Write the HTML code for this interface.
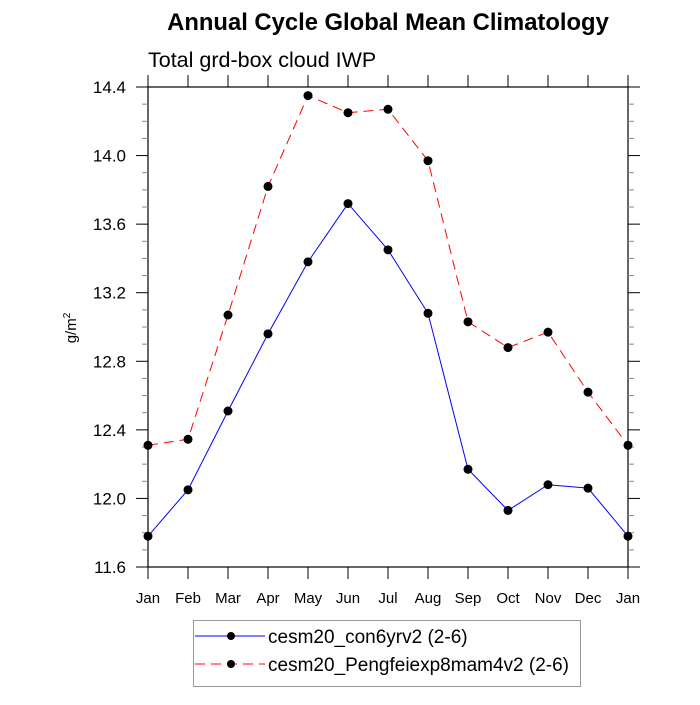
<!DOCTYPE html>
<html><head><meta charset="utf-8"><style>
body{margin:0;background:#fff;}
svg text{font-family:"Liberation Sans",sans-serif;}
</style></head><body>
<svg id="chart" width="700" height="700" xmlns="http://www.w3.org/2000/svg">
<text x="388" y="30" text-anchor="middle" font-size="23.8" font-weight="bold">Annual Cycle Global Mean Climatology</text>
<text x="148" y="67" font-size="21.5">Total grd-box cloud IWP</text>
<text transform="translate(76,328) rotate(-90)" text-anchor="middle" font-size="15">g/m<tspan dy="-6" font-size="10">2</tspan></text>
<g id="axes"></g>
<g id="series"></g>
<g>
<rect x="193.5" y="620.5" width="387" height="66" fill="none" stroke="#999"/>
<g>
<line x1="195" y1="636" x2="265" y2="636" stroke="#00f" stroke-width="1"/>
<circle cx="231" cy="636" r="4" fill="#000"/>
<text x="268" y="643" font-size="19">cesm20_con6yrv2 (2-6)</text></g>
<g>
<line x1="195" y1="664" x2="265" y2="664" stroke="#f00" stroke-width="1" stroke-dasharray="10,6"/>
<circle cx="231" cy="664" r="4" fill="#000"/>
<text x="268" y="671" font-size="19">cesm20_Pengfeiexp8mam4v2 (2-6)</text></g>
</g>
</svg>
<script>
const months=["Jan","Feb","Mar","Apr","May","Jun","Jul","Aug","Sep","Oct","Nov","Dec","Jan"];
const con6yrv2=[11.78,12.05,12.51,12.96,13.38,13.72,13.45,13.08,12.17,11.93,12.08,12.06,11.78];
const pengfei=[12.31,12.345,13.07,13.82,14.35,14.25,14.27,13.97,13.03,12.88,12.97,12.62,12.31];
const yTicks=[11.6,12.0,12.4,12.8,13.2,13.6,14.0,14.4];
const yTickLabels=["11.6","12.0","12.4","12.8","13.2","13.6","14.0","14.4"];
const NS="http://www.w3.org/2000/svg";
const L=148,R=628,T=87,B=567,yMin=11.6,yMax=14.4;
const xs=i=>L+(R-L)*i/(months.length-1);
const ys=v=>B-(B-T)*(v-yMin)/(yMax-yMin);
function mk(t,a,p){const e=document.createElementNS(NS,t);for(const k in a)e.setAttribute(k,a[k]);p.appendChild(e);return e;}
const ax=document.getElementById('axes');
const fr=mk('rect',{x:L,y:T,width:R-L,height:B-T,fill:'none',stroke:'#000','stroke-width':1.2},ax);


months.forEach((m,i)=>{const x=xs(i);
mk('line',{x1:x,y1:B,x2:x,y2:B+12,stroke:'#000'},ax);
mk('line',{x1:x,y1:T,x2:x,y2:T-12,stroke:'#000'},ax);
const t=mk('text',{x:x,y:B+36,'text-anchor':'middle','font-size':15},ax);t.textContent=m;

});
for(let k=0;k<=Math.round((yMax-yMin)*10);k++){const v=yMin+k*0.1;const y=ys(v);
const len=(k%4===0)?12:6;
mk('line',{x1:L,y1:y,x2:L-len,y2:y,stroke:len>6?'#000':'#888'},ax);
mk('line',{x1:R,y1:y,x2:R+len,y2:y,stroke:len>6?'#000':'#888'},ax);}
yTicks.forEach((v,i)=>{const t=mk('text',{x:L-22,y:ys(v)+6,'text-anchor':'end','font-size':17},ax);t.textContent=yTickLabels[i];

});
const sg=document.getElementById('series');
function draw(vals,col,dash,name){
const g=mk('g',{},sg);


const a={points:vals.map((v,i)=>xs(i)+','+ys(v)).join(' '),fill:'none',stroke:col,'stroke-width':1};
if(dash)a['stroke-dasharray']=dash;mk('polyline',a,g);
vals.forEach((v,i)=>{const c=mk('circle',{cx:xs(i),cy:ys(v),r:4.5,fill:'#000'},g);

});}
draw(pengfei,'#f00','10,6','series-pengfeiexp8mam4v2');
draw(con6yrv2,'#00f',null,'series-con6yrv2');
</script>
</body></html>
